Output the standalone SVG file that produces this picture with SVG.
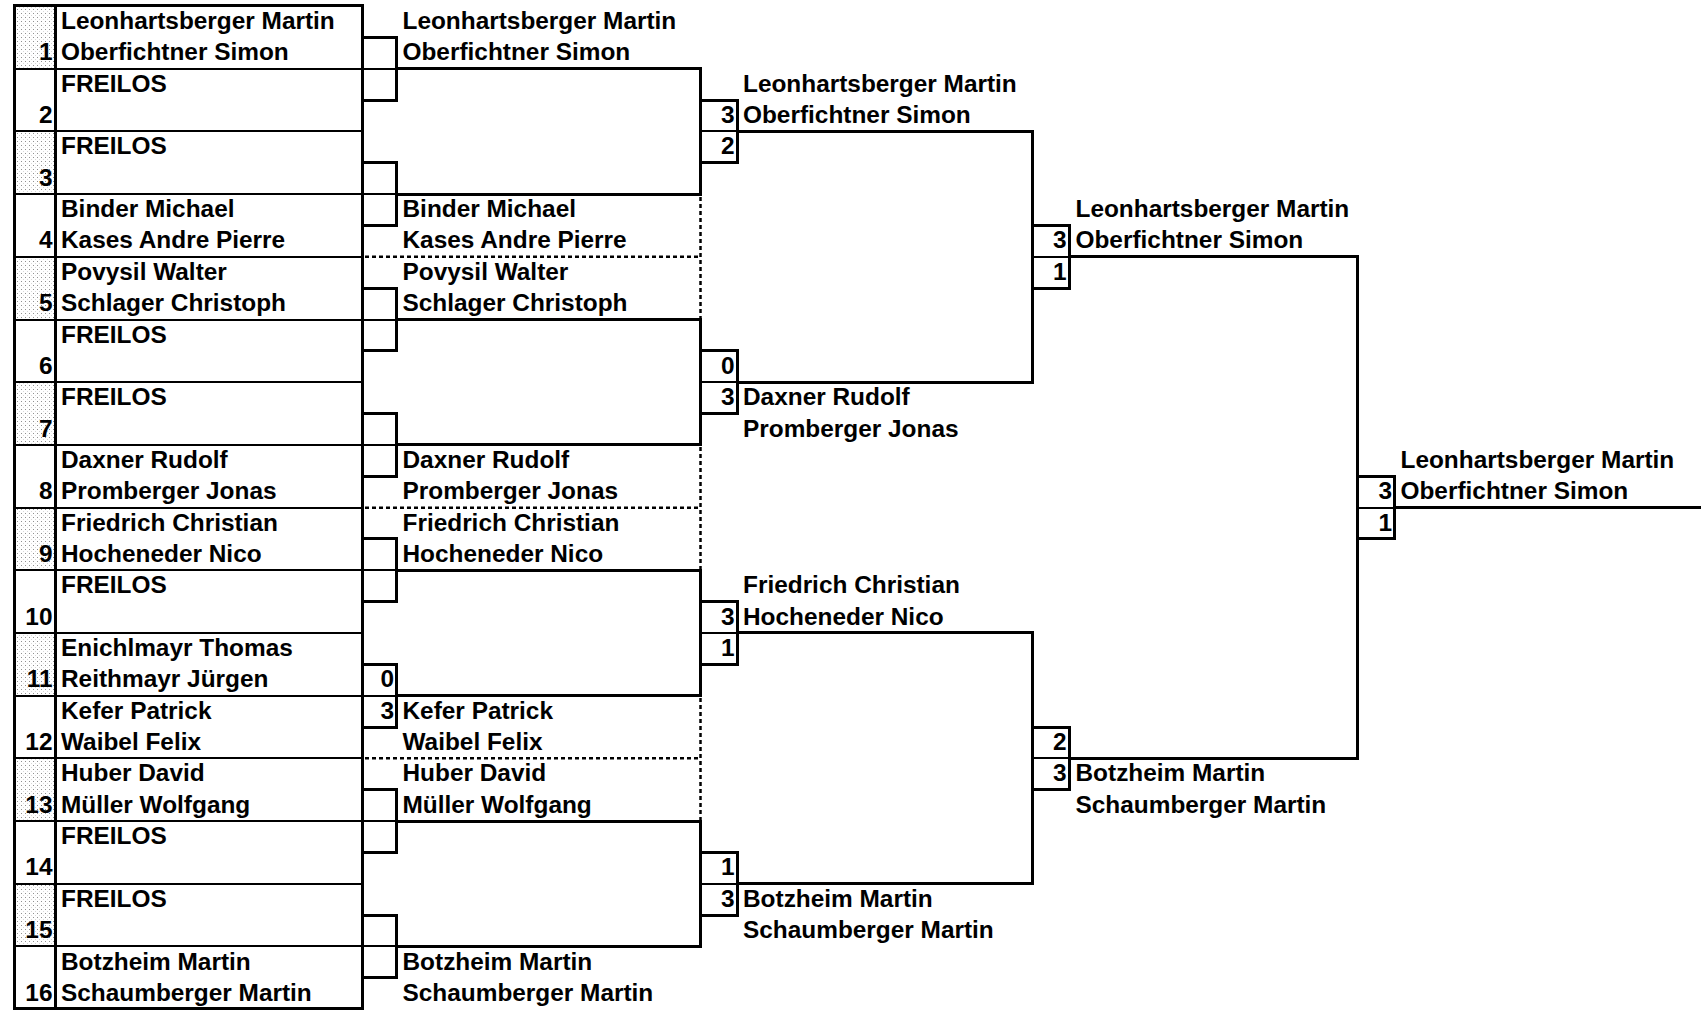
<svg xmlns="http://www.w3.org/2000/svg" width="1701" height="1010" viewBox="0 0 1701 1010">
<defs>
<pattern id="stip" width="4" height="4" patternUnits="userSpaceOnUse">
<rect x="0" y="0" width="4" height="4" fill="#ffffff"/>
<rect x="1" y="1" width="1" height="1" fill="#909090"/>
<rect x="3" y="3" width="1" height="1" fill="#d8d8d8"/>
</pattern>
</defs>
<style>
text{font-family:"Liberation Sans",Arial,sans-serif;font-weight:bold;font-size:24.4px;fill:#000}
.n{text-anchor:end}
.thick{fill:none;stroke:#000;stroke-width:3;stroke-linecap:square;stroke-linejoin:miter}
.thin{fill:none;stroke:#000;stroke-width:2}
.dot{fill:none;stroke:#000;stroke-width:2.5;stroke-dasharray:4 3}
.st{fill:url(#stip)}
</style>
<rect width="1701" height="1010" fill="#ffffff"/>

<g id="seeds-stipple">
<rect class="st" x="16" y="7" width="38" height="61"/>
<rect class="st" x="16" y="132" width="38" height="62"/>
<rect class="st" x="16" y="258" width="38" height="62"/>
<rect class="st" x="16" y="383" width="38" height="62"/>
<rect class="st" x="16" y="509" width="38" height="61"/>
<rect class="st" x="16" y="634" width="38" height="62"/>
<rect class="st" x="16" y="759" width="38" height="62"/>
<rect class="st" x="16" y="885" width="38" height="61"/>
</g>

<g id="connectors">
<!-- seed table -->
<path class="thin" d="M14 69H362M14 131H362M14 194H362M14 257H362M14 320H362M14 382H362M14 445H362M14 508H362M14 570H362M14 633H362M14 696H362M14 758H362M14 821H362M14 884H362M14 946H362"/>
<rect class="thick" x="14.5" y="5.5" width="348" height="1003"/>
<path class="thick" d="M55.5 6V1008"/>
<!-- round 1 score boxes -->
<path class="thick" d="M362.5 37.5H396.5V100.5H362.5M362.5 162.5H396.5V225.5H362.5M362.5 288.5H396.5V350.5H362.5M362.5 413.5H396.5V476.5H362.5M362.5 538.5H396.5V601.5H362.5M362.5 664.5H396.5V727.5H362.5M362.5 789.5H396.5V852.5H362.5M362.5 915.5H396.5V977.5H362.5"/>
<path class="thin" d="M363 69H396M363 194H396M363 320H396M363 445H396M363 570H396M363 696H396M363 821H396M363 946H396"/>
<!-- round 2 brackets -->
<path class="thick" d="M396.5 68.5H700.5V194.5H396.5"/>
<path class="thick" d="M396.5 319.5H700.5V444.5H396.5"/>
<path class="thick" d="M396.5 570.5H700.5V695.5H396.5"/>
<path class="thick" d="M396.5 821.5H700.5V946.5H396.5"/>
<path class="dot" d="M365 256.75H700.5M365 507.75H700.5M365 758.25H700.5M700.5 197V318M700.5 447V569M700.5 698V820"/>
<!-- round 2 score boxes -->
<path class="thick" d="M700.5 100.5H737.5V162.5H700.5M700.5 350.5H737.5V413.5H700.5M700.5 601.5H737.5V664.5H700.5M700.5 852.5H737.5V915.5H700.5"/>
<path class="thin" d="M701 131H737M701 382H737M701 633H737M701 884H737"/>
<!-- round 3 brackets -->
<path class="thick" d="M737.5 131.5H1032.5V382.5H737.5"/>
<path class="thick" d="M737.5 632.5H1032.5V883.5H737.5"/>
<path class="thick" d="M1032.5 225.5H1069.5V288.5H1032.5M1032.5 727.5H1069.5V789.5H1032.5"/>
<path class="thin" d="M1033 257H1069M1033 758H1069"/>
<!-- final bracket -->
<path class="thick" d="M1069.5 256.5H1357.5V758.5H1069.5"/>
<path class="thick" d="M1357.5 476.5H1394.5V538.5H1357.5"/>
<path class="thin" d="M1358 508H1394"/>
<path class="thick" d="M1394.5 507.5H1702"/>
</g>

<g id="slot-1"><text class="n" x="52.5" y="60.35">1</text><text x="61" y="29">Leonhartsberger Martin</text><text x="61" y="60.35">Oberfichtner Simon</text></g>
<g id="slot-2"><text class="n" x="52.5" y="123.05">2</text><text x="61" y="91.7">FREILOS</text></g>
<g id="slot-3"><text class="n" x="52.5" y="185.75">3</text><text x="61" y="154.4">FREILOS</text></g>
<g id="slot-4"><text class="n" x="52.5" y="248.45">4</text><text x="61" y="217.1">Binder Michael</text><text x="61" y="248.45">Kases Andre Pierre</text></g>
<g id="slot-5"><text class="n" x="52.5" y="311.15">5</text><text x="61" y="279.8">Povysil Walter</text><text x="61" y="311.15">Schlager Christoph</text></g>
<g id="slot-6"><text class="n" x="52.5" y="373.85">6</text><text x="61" y="342.5">FREILOS</text></g>
<g id="slot-7"><text class="n" x="52.5" y="436.55">7</text><text x="61" y="405.2">FREILOS</text></g>
<g id="slot-8"><text class="n" x="52.5" y="499.25">8</text><text x="61" y="467.9">Daxner Rudolf</text><text x="61" y="499.25">Promberger Jonas</text></g>
<g id="slot-9"><text class="n" x="52.5" y="561.95">9</text><text x="61" y="530.6">Friedrich Christian</text><text x="61" y="561.95">Hocheneder Nico</text></g>
<g id="slot-10"><text class="n" x="52.5" y="624.65">10</text><text x="61" y="593.3">FREILOS</text></g>
<g id="slot-11"><text class="n" x="52.5" y="687.35">11</text><text x="61" y="656">Enichlmayr Thomas</text><text x="61" y="687.35">Reithmayr Jürgen</text></g>
<g id="slot-12"><text class="n" x="52.5" y="750.05">12</text><text x="61" y="718.7">Kefer Patrick</text><text x="61" y="750.05">Waibel Felix</text></g>
<g id="slot-13"><text class="n" x="52.5" y="812.75">13</text><text x="61" y="781.4">Huber David</text><text x="61" y="812.75">Müller Wolfgang</text></g>
<g id="slot-14"><text class="n" x="52.5" y="875.45">14</text><text x="61" y="844.1">FREILOS</text></g>
<g id="slot-15"><text class="n" x="52.5" y="938.15">15</text><text x="61" y="906.8">FREILOS</text></g>
<g id="slot-16"><text class="n" x="52.5" y="1000.85">16</text><text x="61" y="969.5">Botzheim Martin</text><text x="61" y="1000.85">Schaumberger Martin</text></g>

<g id="r1-m1"><text x="402.5" y="29">Leonhartsberger Martin</text><text x="402.5" y="60.35">Oberfichtner Simon</text></g>
<g id="r1-m2"><text x="402.5" y="217.1">Binder Michael</text><text x="402.5" y="248.45">Kases Andre Pierre</text></g>
<g id="r1-m3"><text x="402.5" y="279.8">Povysil Walter</text><text x="402.5" y="311.15">Schlager Christoph</text></g>
<g id="r1-m4"><text x="402.5" y="467.9">Daxner Rudolf</text><text x="402.5" y="499.25">Promberger Jonas</text></g>
<g id="r1-m5"><text x="402.5" y="530.6">Friedrich Christian</text><text x="402.5" y="561.95">Hocheneder Nico</text></g>
<g id="r1-m6"><text class="n" x="394" y="687.35">0</text><text class="n" x="394" y="718.7">3</text><text x="402.5" y="718.7">Kefer Patrick</text><text x="402.5" y="750.05">Waibel Felix</text></g>
<g id="r1-m7"><text x="402.5" y="781.4">Huber David</text><text x="402.5" y="812.75">Müller Wolfgang</text></g>
<g id="r1-m8"><text x="402.5" y="969.5">Botzheim Martin</text><text x="402.5" y="1000.85">Schaumberger Martin</text></g>

<g id="r2-m1"><text class="n" x="734.5" y="123.05">3</text><text class="n" x="734.5" y="154.4">2</text><text x="743" y="91.7">Leonhartsberger Martin</text><text x="743" y="123.05">Oberfichtner Simon</text></g>
<g id="r2-m2"><text class="n" x="734.5" y="373.85">0</text><text class="n" x="734.5" y="405.2">3</text><text x="743" y="405.2">Daxner Rudolf</text><text x="743" y="436.55">Promberger Jonas</text></g>
<g id="r2-m3"><text class="n" x="734.5" y="624.65">3</text><text class="n" x="734.5" y="656">1</text><text x="743" y="593.3">Friedrich Christian</text><text x="743" y="624.65">Hocheneder Nico</text></g>
<g id="r2-m4"><text class="n" x="734.5" y="875.45">1</text><text class="n" x="734.5" y="906.8">3</text><text x="743" y="906.8">Botzheim Martin</text><text x="743" y="938.15">Schaumberger Martin</text></g>

<g id="r3-m1"><text class="n" x="1066.5" y="248.45">3</text><text class="n" x="1066.5" y="279.8">1</text><text x="1075.5" y="217.1">Leonhartsberger Martin</text><text x="1075.5" y="248.45">Oberfichtner Simon</text></g>
<g id="r3-m2"><text class="n" x="1066.5" y="750.05">2</text><text class="n" x="1066.5" y="781.4">3</text><text x="1075.5" y="781.4">Botzheim Martin</text><text x="1075.5" y="812.75">Schaumberger Martin</text></g>

<g id="final"><text class="n" x="1392" y="499.25">3</text><text class="n" x="1392" y="530.6">1</text><text x="1400.5" y="467.9">Leonhartsberger Martin</text><text x="1400.5" y="499.25">Oberfichtner Simon</text></g>
</svg>
